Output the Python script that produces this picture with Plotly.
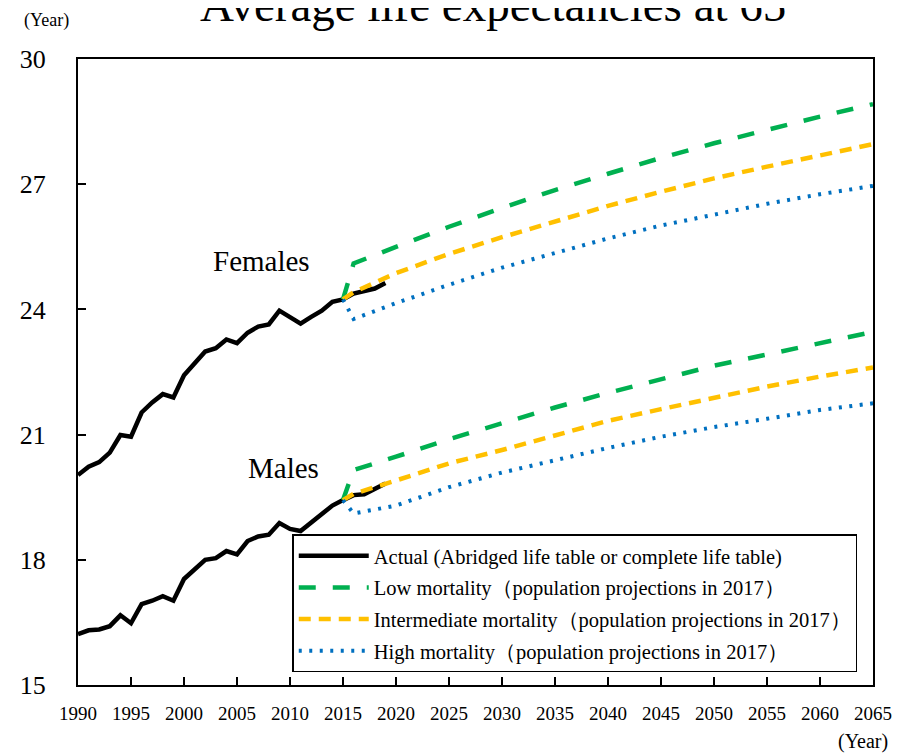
import plotly.graph_objects as go

# ---- data ----
actual_years = list(range(1990, 2020))
female_actual = [20.03, 20.23, 20.34, 20.57, 20.99, 20.95, 21.53, 21.77, 21.97, 21.89,
                 22.42, 22.71, 22.99, 23.07, 23.28, 23.19, 23.44, 23.59, 23.64, 23.97,
                 23.80, 23.66, 23.82, 23.97, 24.18, 24.24, 24.38, 24.43, 24.50, 24.63]
male_actual = [16.22, 16.31, 16.33, 16.41, 16.67, 16.48, 16.94, 17.02, 17.13, 17.02,
               17.54, 17.78, 18.00, 18.04, 18.21, 18.13, 18.45, 18.56, 18.60, 18.88,
               18.74, 18.69, 18.89, 19.10, 19.30, 19.43, 19.55, 19.57, 19.70, 19.83]

proj_years = [2015, 2016, 2020, 2025, 2030, 2035, 2040, 2045, 2050, 2055, 2060, 2065]
female_low = [24.24, 25.10, 25.50, 25.98, 26.43, 26.86, 27.25, 27.63, 27.98, 28.31, 28.62, 28.92]
female_mid = [24.24, 24.41, 24.87, 25.33, 25.73, 26.10, 26.48, 26.82, 27.14, 27.42, 27.69, 27.96]
female_high = [24.24, 23.77, 24.15, 24.59, 25.00, 25.36, 25.70, 26.01, 26.28, 26.53, 26.76, 26.96]
male_low = [19.43, 20.15, 20.47, 20.89, 21.27, 21.65, 22.00, 22.33, 22.65, 22.92, 23.18, 23.46]
male_mid = [19.43, 19.58, 19.90, 20.31, 20.63, 20.99, 21.33, 21.61, 21.89, 22.15, 22.39, 22.61]
male_high = [19.43, 19.11, 19.30, 19.74, 20.09, 20.39, 20.68, 20.95, 21.18, 21.38, 21.59, 21.75]

legend_names = [
    "Actual (Abridged life table or complete life table)",
    "Low mortality（population projections in 2017）",
    "Intermediate mortality（population projections in 2017）",
    "High mortality（population projections in 2017）",
]

FONT = "Liberation Serif, Times New Roman, serif"
BLACK = "#000000"
GREEN = "#00B050"
YELLOW = "#FFC000"
BLUE = "#0070C0"

fig = go.Figure()

styles = [
    dict(color=BLACK, width=4.5, dash="solid"),
    dict(color=GREEN, width=4.5, dash="17px,17px"),
    dict(color=YELLOW, width=4.5, dash="12px,8px"),
    dict(color=BLUE, width=4, dash="3px,7.5px"),
]

series = [
    (actual_years, female_actual, male_actual),
    (proj_years, female_low, male_low),
    (proj_years, female_mid, male_mid),
    (proj_years, female_high, male_high),
]

for i, ((xs, fy, my), st, name) in enumerate(zip(series, styles, legend_names)):
    fig.add_trace(go.Scatter(x=xs, y=fy, mode="lines", name=name, line=st,
                             legendgroup=f"g{i}", showlegend=True))
    fig.add_trace(go.Scatter(x=xs, y=my, mode="lines", name=name, line=st,
                             legendgroup=f"g{i}", showlegend=False))

fig.update_layout(
    width=899, height=747,
    margin=dict(l=67, r=34, t=51, b=70),
    paper_bgcolor="white", plot_bgcolor="white",
    font=dict(family=FONT, color="black"),
    showlegend=True,
    legend=dict(
        x=0.2695, y=0.2405, xanchor="left", yanchor="top",
        bgcolor="white", bordercolor="black", borderwidth=1.5,
        font=dict(family=FONT, size=20.5, color="black"),
        tracegroupgap=2, itemwidth=70,
    ),
    xaxis=dict(
        range=[1990, 2065], tick0=1990, dtick=5, ticks="inside", ticklen=8,
        tickwidth=1.5, tickcolor="black", showline=True, linecolor="black",
        linewidth=2, mirror=True, showgrid=False, zeroline=False,
        tickfont=dict(family=FONT, size=19, color="black"),
        ticklabelstandoff=10,
    ),
    yaxis=dict(
        range=[15, 30], tick0=15, dtick=3, ticks="inside", ticklen=8,
        tickwidth=1.5, tickcolor="black", showline=True, linecolor="black",
        linewidth=2, mirror=True, showgrid=False, zeroline=False,
        tickfont=dict(family=FONT, size=26, color="black"),
        ticklabelstandoff=25,
    ),
    annotations=[
        dict(text="Average life expectancies at 65", xref="paper", yref="paper",
             x=0.522, y=1.041, xanchor="center", yanchor="bottom", showarrow=False,
             font=dict(family=FONT, size=47, color="black")),
        dict(text="(Year)", xref="paper", yref="paper", x=-0.039, y=1.062,
             xanchor="center", yanchor="middle", showarrow=False,
             font=dict(family=FONT, size=18, color="black")),
        dict(text="(Year)", xref="paper", yref="paper", x=1.021, y=-0.091,
             xanchor="right", yanchor="middle", showarrow=False,
             font=dict(family=FONT, size=20, color="black")),
        dict(text="Females", x=2007.3, y=25.15, xref="x", yref="y", showarrow=False,
             font=dict(family=FONT, size=29, color="black")),
        dict(text="Males", x=2009.4, y=20.2, xref="x", yref="y", showarrow=False,
             font=dict(family=FONT, size=29, color="black")),
    ],
)

fig.write_html("out.html")
